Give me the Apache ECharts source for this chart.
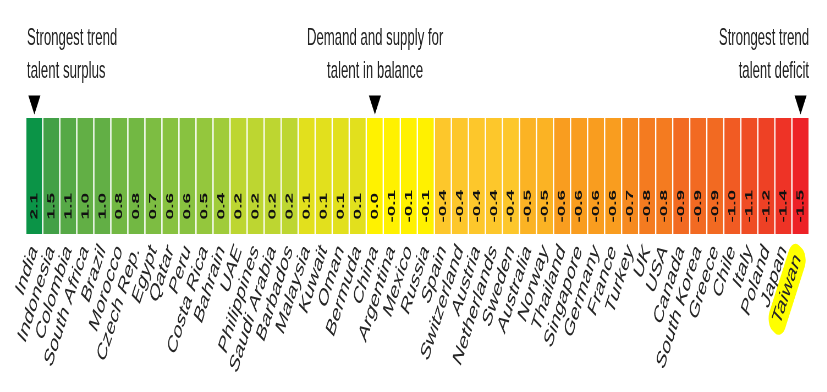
<!DOCTYPE html>
<html>
<head>
<meta charset="utf-8">
<script src="https://cdn.jsdelivr.net/npm/echarts@6/dist/echarts.min.js"></script>
<style>
html, body { margin: 0; padding: 0; overflow: hidden; background: #fff; }
#wrap { width: 827px; height: 392px; overflow: hidden; position: relative; }
#chart { width: 1504px; height: 392px; transform: scaleX(0.55); transform-origin: 0 0; }
</style>
</head>
<body>
<div id="wrap"><div id="chart"></div></div>
<script>
// ---- data ----
const countries = ['India','Indonesia','Colombia','South Africa','Brazil','Morocco','Czech Rep.','Egypt','Qatar','Peru',
  'Costa Rica','Bahrain','UAE','Philippines','Saudi Arabia','Barbados','Malaysia','Kuwait','Oman','Bermuda',
  'China','Argentina','Mexico','Russia','Spain','Switzerland','Austria','Netherlands','Sweden','Australia',
  'Norway','Thailand','Singapore','Germany','France','Turkey','UK','USA','Canada','South Korea',
  'Greece','Chile','Italy','Poland','Japan','Taiwan'];
const values = [2.1,1.5,1.1,1.0,1.0,0.8,0.8,0.7,0.6,0.6,
  0.5,0.4,0.2,0.2,0.2,0.2,0.1,0.1,0.1,0.1,
  0.0,-0.1,-0.1,-0.1,-0.4,-0.4,-0.4,-0.4,-0.4,-0.5,
  -0.5,-0.6,-0.6,-0.6,-0.6,-0.7,-0.8,-0.8,-0.9,-0.9,
  -0.9,-1.0,-1.1,-1.2,-1.4,-1.5];
const markerCountries = ['India','China','Taiwan'];
const highlightCountry = 'Taiwan';
const annotations = [
  'Strongest trend\ntalent surplus',
  'Demand and supply for\ntalent in balance',
  'Strongest trend\ntalent deficit'
];
// colour for each value level
const valueColors = [
  [2.1,'#0b9447'],[1.5,'#42a047'],[1.1,'#56a946'],[1.0,'#62af45'],[0.8,'#72b843'],
  [0.7,'#7dbd42'],[0.6,'#88c240'],[0.5,'#94c73d'],[0.4,'#a0cc3a'],[0.2,'#bdd631'],
  [0.1,'#e2e01d'],[0.0,'#fff200'],[-0.1,'#fff100'],[-0.4,'#fdc72b'],[-0.5,'#fbb324'],
  [-0.6,'#f99d1f'],[-0.7,'#f68a20'],[-0.8,'#f47b20'],[-0.9,'#f26a22'],[-1.0,'#f15b23'],
  [-1.1,'#ef4d24'],[-1.2,'#ee4125'],[-1.4,'#ee3326'],[-1.5,'#ed2127']
];

// ---- chart ----
const FONT = '"Liberation Sans", Arial, sans-serif';
const chart = echarts.init(document.getElementById('chart'), null, { renderer: 'canvas' });
const textColor = '#222222';

chart.setOption({
  animation: false,
  backgroundColor: '#fff',
  grid: { left: 47, right: 33, top: 117, height: 118, containLabel: false },
  xAxis: {
    type: 'category',
    data: countries,
    axisLine: { show: false },
    axisTick: { show: false },
    splitLine: { show: false },
    axisLabel: {
      interval: 0,
      rotate: 60,
      margin: 12,
      fontSize: 25,
      fontFamily: FONT,
      color: '#262626',
      hideOverlap: false,
      formatter: v => v === highlightCountry ? '{hl|' + v + '}' : v,
      rich: {
        hl: { backgroundColor: '#ffff00', padding: [4, 10, 4, 10], borderRadius: 14,
              fontSize: 25, fontFamily: FONT, color: '#262626' }
      }
    }
  },
  yAxis: { type: 'category', data: [''], show: false },
  visualMap: {
    type: 'piecewise',
    show: false,
    dimension: 2,
    seriesIndex: 0,
    pieces: valueColors.map(([v, c]) => ({ value: v, color: c }))
  },
  series: [{
    type: 'heatmap',
    data: values.map((v, i) => [i, 0, v]),
    itemStyle: { borderColor: '#ffffff', borderWidth: 2.4 },
    emphasis: { disabled: true },
    label: {
      show: true,
      formatter: p => p.value[2].toFixed(1),
      rotate: 90,
      position: ['50%', '75%'],
      align: 'center',
      verticalAlign: 'middle',
      fontSize: 19,
      fontWeight: 'bold',
      fontFamily: FONT,
      color: '#111'
    },
    markPoint: {
      symbol: 'path://M0,0L10,0L5,10Z',
      symbolSize: [22, 19],
      symbolOffset: [0, -71],
      symbolKeepAspect: false,
      itemStyle: { color: '#000' },
      label: { show: false },
      emphasis: { disabled: true },
      data: markerCountries.map(n => ({ coord: [n, 0] }))
    }
  }],
  graphic: [
    { type: 'text', x: 49, y: 22, silent: true,
      style: { text: annotations[0], font: '24px ' + FONT, lineHeight: 33, fill: textColor, align: 'left', verticalAlign: 'top' } },
    { type: 'text', x: 682, y: 22, silent: true,
      style: { text: annotations[1], font: '24px ' + FONT, lineHeight: 33, fill: textColor, align: 'center', verticalAlign: 'top' } },
    { type: 'text', x: 1471, y: 22, silent: true,
      style: { text: annotations[2], font: '24px ' + FONT, lineHeight: 33, fill: textColor, align: 'right', verticalAlign: 'top' } }
  ]
});
</script>
</body>
</html>
